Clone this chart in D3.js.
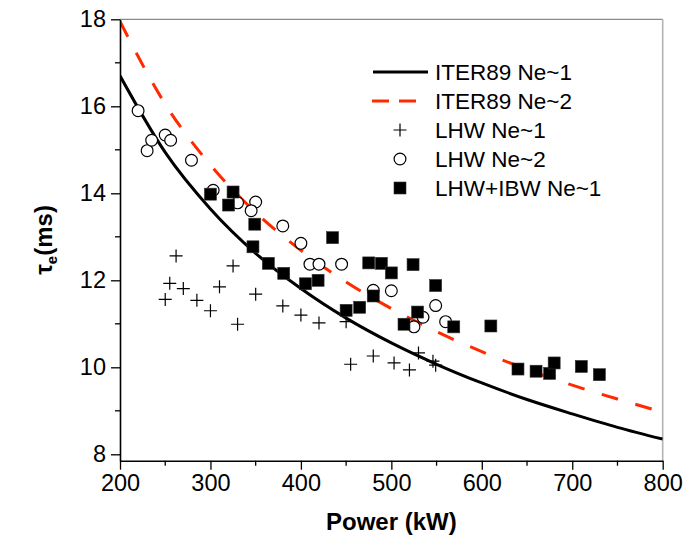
<!DOCTYPE html>
<html>
<head>
<meta charset="utf-8">
<script src="https://cdn.jsdelivr.net/npm/d3@7"></script>
<style>
  html, body { margin: 0; padding: 0; background: #fff; }
  svg { display: block; font-family: "Liberation Sans", Arial, sans-serif; }
</style>
</head>
<body>
<svg id="chart" width="692" height="542"></svg>
<script>
// Energy confinement time vs. injected power

// ITER89 scaling curves, sampled along power (kW)
const curvePower = [200, 250, 300, 350, 400, 450, 500, 550, 600, 650, 700, 750, 800];
const iterNe1 = [16.70, 14.94, 13.64, 12.62, 11.81, 11.13, 10.56, 10.07, 9.64, 9.26, 8.93, 8.62, 8.35];
const iterNe2 = [17.95, 16.05, 14.65, 13.56, 12.69, 11.96, 11.35, 10.82, 10.36, 9.95, 9.59, 9.27, 8.97];

// LHW, Ne~1 (crosses)
const lhwNe1Power = [262, 325, 255, 270, 250, 285, 310, 350, 300, 330, 380, 400, 420, 450, 455, 480, 503, 520, 530, 546, 549];
const lhwNe1Tau   = [12.56, 12.33, 11.93, 11.81, 11.56, 11.54, 11.85, 11.68, 11.30, 10.99, 11.41, 11.20, 11.02, 11.05, 10.07, 10.26, 10.10, 9.94, 10.33, 10.14, 10.05];

// LHW, Ne~2 (open circles)
const lhwNe2Power = [220, 230, 235, 250, 256, 279, 303, 330, 350, 345, 380, 400, 410, 420, 445, 480, 500, 549, 535, 525, 560];
const lhwNe2Tau   = [15.90, 14.98, 15.22, 15.34, 15.22, 14.76, 14.07, 13.78, 13.80, 13.60, 13.25, 12.85, 12.37, 12.37, 12.37, 11.77, 11.76, 11.42, 11.15, 10.93, 11.05];

// LHW+IBW, Ne~1 (filled squares)
const comboPower = [300, 325, 320, 349, 347, 364, 381, 405, 419, 435, 450, 465, 475, 480, 489, 500, 514, 524, 529, 549, 569, 610, 640, 660, 675, 680, 710, 730];
const comboTau   = [13.98, 14.03, 13.73, 13.29, 12.77, 12.39, 12.16, 11.92, 12.00, 12.98, 11.31, 11.38, 12.40, 11.64, 12.39, 12.17, 10.99, 12.36, 11.27, 11.88, 10.93, 10.95, 9.96, 9.91, 9.86, 10.10, 10.02, 9.83];

const xTicks = [200, 300, 400, 500, 600, 700, 800];
const xMinor = [250, 350, 450, 550, 650, 750];
const yTicks = [8, 10, 12, 14, 16, 18];
const yMinor = [9, 11, 13, 15, 17];

const legendLabels = ["ITER89 Ne~1", "ITER89 Ne~2", "LHW Ne~1", "LHW Ne~2", "LHW+IBW Ne~1"];

const RED = "#ff2a00";
const svg = d3.select("#chart");
const pLeft = 120, pRight = 662.7, pTop = 19.3, pBottom = 460.7;

const x = d3.scaleLinear().domain([200, 800]).range([pLeft, pRight]);
const y = d3.scaleLinear().domain([7.853, 18]).range([pBottom, pTop]);

// frame (top and right, light grey)
svg.append("line").attr("x1", pLeft).attr("x2", pRight).attr("y1", pTop).attr("y2", pTop)
  .attr("stroke", "#8a8a8a").attr("stroke-width", 1.2);
svg.append("line").attr("x1", pRight).attr("x2", pRight).attr("y1", pTop).attr("y2", pBottom)
  .attr("stroke", "#b4b4b4").attr("stroke-width", 1.6);

const plot = svg.append("g");
svg.append("defs").append("clipPath").attr("id", "clip")
  .append("rect").attr("x", pLeft).attr("y", pTop).attr("width", pRight - pLeft).attr("height", pBottom - pTop);
const clipped = plot.append("g").attr("clip-path", "url(#clip)");

const line = d3.line().x(d => x(d[0])).y(d => y(d[1])).curve(d3.curveMonotoneX);

clipped.append("path")
  .datum(curvePower.map((p, i) => [p, iterNe2[i]]))
  .attr("d", line).attr("fill", "none")
  .attr("stroke", RED).attr("stroke-width", 3).attr("stroke-dasharray", "17,18");

clipped.append("path")
  .datum(curvePower.map((p, i) => [p, iterNe1[i]]))
  .attr("d", line).attr("fill", "none")
  .attr("stroke", "#000").attr("stroke-width", 3);

// marker drawers
function cross(g, cx, cy, s) {
  g.append("path").attr("d", `M${cx - s},${cy}H${cx + s}M${cx},${cy - s}V${cy + s}`)
    .attr("stroke", "#000").attr("stroke-width", 1.2).attr("fill", "none");
}
function circle(g, cx, cy, r) {
  g.append("circle").attr("cx", cx).attr("cy", cy).attr("r", r)
    .attr("fill", "#fff").attr("stroke", "#000").attr("stroke-width", 1.2);
}
function square(g, cx, cy, s) {
  g.append("rect").attr("x", cx - s / 2).attr("y", cy - s / 2).attr("width", s).attr("height", s)
    .attr("fill", "#000").attr("stroke", "#333").attr("stroke-width", 0.6);
}

const marks = plot.append("g");
lhwNe1Power.forEach((p, i) => cross(marks, x(p), y(lhwNe1Tau[i]), 6.5));
lhwNe2Power.forEach((p, i) => circle(marks, x(p), y(lhwNe2Tau[i]), 5.9));
comboPower.forEach((p, i) => square(marks, x(p), y(comboTau[i]), 12));

// axes
const TICK_FS = 23.5;
const xAxis = svg.append("g").attr("transform", `translate(0,${pBottom})`)
  .call(d3.axisBottom(x).tickValues(xTicks).tickSize(9).tickSizeOuter(0).tickPadding(5));
xAxis.selectAll("text").attr("font-size", TICK_FS).attr("fill", "#000")
  .attr("font-family", "Liberation Sans, Arial, sans-serif");
svg.append("g").attr("transform", `translate(0,${pBottom})`)
  .selectAll("line").data(xMinor).join("line")
  .attr("x1", d => x(d)).attr("x2", d => x(d)).attr("y1", 0).attr("y2", 5)
  .attr("stroke", "#000").attr("stroke-width", 1.3);

const yAxis = svg.append("g").attr("transform", `translate(${pLeft},0)`)
  .call(d3.axisLeft(y).tickValues(yTicks).tickSize(9).tickSizeOuter(0).tickPadding(5));
yAxis.selectAll("text").attr("font-size", TICK_FS).attr("fill", "#000")
  .attr("font-family", "Liberation Sans, Arial, sans-serif");
svg.append("g").attr("transform", `translate(${pLeft},0)`)
  .selectAll("line").data(yMinor).join("line")
  .attr("x1", -5).attr("x2", 0).attr("y1", d => y(d)).attr("y2", d => y(d))
  .attr("stroke", "#000").attr("stroke-width", 1.3);

[xAxis, yAxis].forEach(a => {
  a.select(".domain").attr("stroke", "#000").attr("stroke-width", 1.6);
  a.selectAll(".tick line").attr("stroke", "#000").attr("stroke-width", 1.3);
});

// axis titles
svg.append("text").attr("x", (pLeft + pRight) / 2).attr("y", 530)
  .attr("text-anchor", "middle").attr("font-size", 24).attr("font-weight", "bold")
  .text("Power (kW)");

const yTitle = svg.append("text")
  .attr("transform", `translate(52,${(pTop + pBottom) / 2}) rotate(-90)`)
  .attr("text-anchor", "middle").attr("font-size", 24).attr("font-weight", "bold");
yTitle.append("tspan").text("τ");
yTitle.append("tspan").attr("font-size", 15).attr("dy", 5).text("e");
yTitle.append("tspan").attr("dy", -5).text("(ms)");

// legend
const legend = svg.append("g");
const rowY = [72, 101, 130, 159, 188];
legend.append("line").attr("x1", 373).attr("x2", 428).attr("y1", rowY[0]).attr("y2", rowY[0])
  .attr("stroke", "#000").attr("stroke-width", 3);
legend.append("line").attr("x1", 372).attr("x2", 416).attr("y1", rowY[1]).attr("y2", rowY[1])
  .attr("stroke", RED).attr("stroke-width", 3).attr("stroke-dasharray", "17,10");
cross(legend, 400, rowY[2], 6.5);
circle(legend, 400, rowY[3], 5.9);
square(legend, 400, rowY[4], 12);
legend.selectAll("text.lbl").data(legendLabels).join("text")
  .attr("class", "lbl")
  .attr("x", 435).attr("y", (d, i) => rowY[i] + 8)
  .attr("font-size", 22.5).text(d => d);
</script>
</body>
</html>
